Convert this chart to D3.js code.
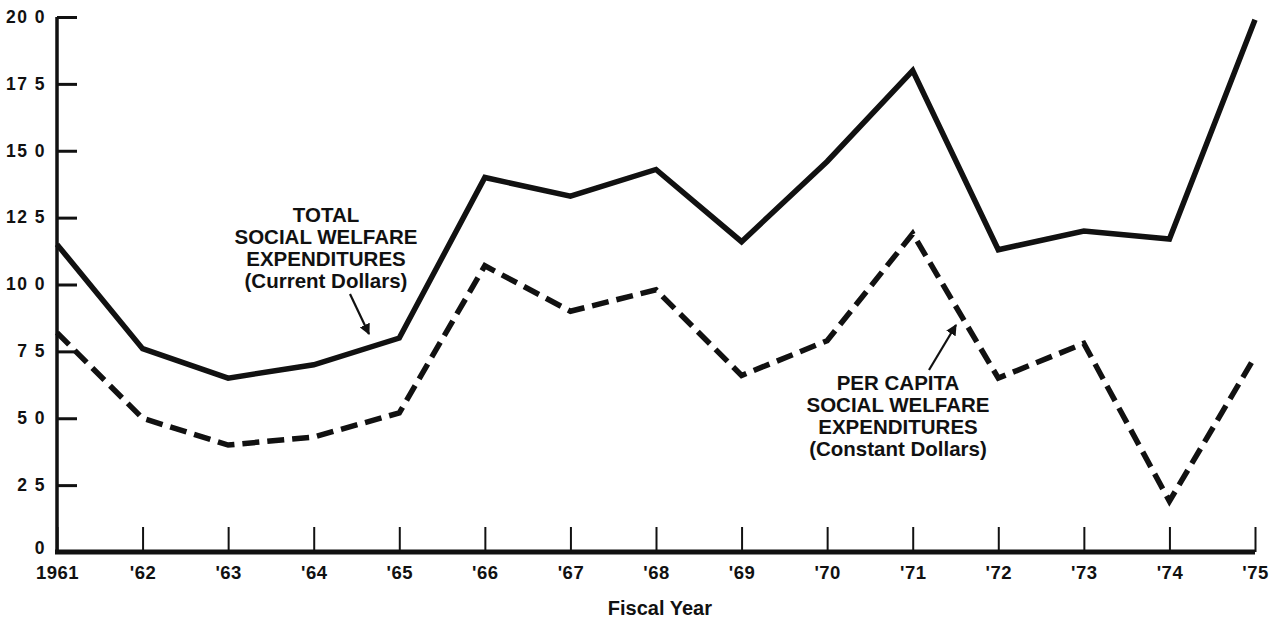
<!DOCTYPE html>
<html>
<head>
<meta charset="utf-8">
<script src="https://cdn.jsdelivr.net/npm/d3@7"></script>
<style>
  body { margin: 0; background: #fff; }
  text { font-family: "Liberation Sans", Arial, sans-serif; font-weight: bold; fill: #111; }
</style>
</head>
<body>
<div id="chart"></div>
<script>
// Data
const years = [1961, 1962, 1963, 1964, 1965, 1966, 1967, 1968, 1969, 1970, 1971, 1972, 1973, 1974, 1975]
const yearLabels = ["1961", "'62", "'63", "'64", "'65", "'66", "'67", "'68", "'69", "'70", "'71", "'72", "'73", "'74", "'75"]
const totalCurrent = [11.5, 7.6, 6.5, 7.0, 8.0, 14.0, 13.3, 14.3, 11.6, 14.6, 18.0, 11.3, 12.0, 11.7, 19.9]
const perCapitaConstant = [8.2, 5.0, 4.0, 4.3, 5.2, 10.7, 9.0, 9.8, 6.6, 7.9, 11.9, 6.5, 7.8, 1.9, 7.3]
const yTicks = [0, 2.5, 5, 7.5, 10, 12.5, 15, 17.5, 20]
const yTickLabels = ["0", "2 5", "5 0", "7 5", "10 0", "12 5", "15 0", "17 5", "20 0"]

let dimensions = {
  width: 1284,
  height: 618,
  margin: { top: 17, bottom: 66, left: 57, right: 29 }
}

const svg = d3.select("#chart")
  .append('svg')
  .attr('width', dimensions.width)
  .attr('height', dimensions.height)

const container = svg.append('g')
  .attr('transform', `translate(${dimensions.margin.left},${dimensions.margin.top})`)

const containerWidth = dimensions.width - dimensions.margin.left - dimensions.margin.right
const containerHeight = dimensions.height - dimensions.margin.top - dimensions.margin.bottom

// Scales
const xScale = d3.scaleLinear()
  .domain([1961, 1975])
  .range([0, containerWidth])

const yScale = d3.scaleLinear()
  .domain([0, 20])
  .range([containerHeight, 0])

// X axis: ticks pointing up from a heavy baseline
const xAxis = d3.axisTop(xScale)
  .tickValues(years)
  .tickSize(25)
  .tickFormat((d, i) => yearLabels[i])

const xAxisGroup = container.append('g')
  .attr('transform', `translate(0, ${containerHeight})`)
  .call(xAxis)
xAxisGroup.select('.domain').remove()
xAxisGroup.selectAll('.tick line').attr('stroke', '#111').attr('stroke-width', 2)
xAxisGroup.selectAll('.tick text')
  .attr('y', 27)
  .attr('dy', 0)
  .attr('font-size', '18.5px')
  .attr('letter-spacing', '0.5px')
  .attr('font-family', '"Liberation Sans", Arial, sans-serif')
  .attr('font-weight', 'bold')
  .attr('fill', '#111')
container.append('line')
  .attr('x1', -2).attr('x2', containerWidth)
  .attr('y1', containerHeight).attr('y2', containerHeight)
  .attr('stroke', '#111').attr('stroke-width', 5)

container.append('text')
  .attr('x', xScale(1966) + 175)
  .attr('y', containerHeight + 63)
  .attr('font-size', '20px')
  .attr('text-anchor', 'middle')
  .text('Fiscal Year')

// Y axis: ticks pointing right
const yAxis = d3.axisRight(yScale)
  .tickValues(yTicks)
  .tickSize(20)
  .tickFormat((d, i) => yTickLabels[i])

const yAxisGroup = container.append('g').call(yAxis)
yAxisGroup.select('.domain').remove()
yAxisGroup.selectAll('.tick line').attr('stroke', '#111').attr('stroke-width', 3)
yAxisGroup.selectAll('.tick text')
  .attr('x', -11)
  .attr('dy', '0.3em')
  .attr('text-anchor', 'end')
  .attr('font-size', '17.5px')
  .attr('letter-spacing', '1.5px')
  .attr('font-family', '"Liberation Sans", Arial, sans-serif')
  .attr('font-weight', 'bold')
  .attr('fill', '#111')
yAxisGroup.selectAll('.tick').filter(d => d === 0).select('text').attr('dy', '0.1em')
container.append('line')
  .attr('x1', 0).attr('x2', 0)
  .attr('y1', 0).attr('y2', containerHeight + 2)
  .attr('stroke', '#111').attr('stroke-width', 3.5)

// Lines
const line = d3.line()
  .x((d, i) => xScale(years[i]))
  .y(d => yScale(d))

container.append('path')
  .datum(totalCurrent)
  .attr('d', line)
  .attr('fill', 'none')
  .attr('stroke', '#111')
  .attr('stroke-width', 5.5)
  .attr('stroke-linejoin', 'miter')

container.append('path')
  .datum(perCapitaConstant)
  .attr('d', line)
  .attr('fill', 'none')
  .attr('stroke', '#111')
  .attr('stroke-width', 5.5)
  .attr('stroke-dasharray', '17,8')

// Annotations
const addLabel = (lines, cx, y0) => {
  container.append('text')
    .attr('text-anchor', 'middle')
    .attr('font-size', '20.5px')
    .selectAll('tspan')
    .data(lines)
    .join('tspan')
    .attr('x', cx)
    .attr('y', (d, i) => y0 + i * 22)
    .text(d => d)
}

addLabel(['TOTAL', 'SOCIAL WELFARE', 'EXPENDITURES', '(Current Dollars)'],
  326 - dimensions.margin.left, 222 - dimensions.margin.top)
addLabel(['PER CAPITA', 'SOCIAL WELFARE', 'EXPENDITURES', '(Constant Dollars)'],
  898 - dimensions.margin.left, 390 - dimensions.margin.top)

svg.append('defs').append('marker')
  .attr('id', 'arrow')
  .attr('viewBox', '0 0 10 10')
  .attr('refX', 9).attr('refY', 5)
  .attr('markerWidth', 5).attr('markerHeight', 5)
  .attr('orient', 'auto')
  .append('path')
  .attr('d', 'M0,0 L10,5 L0,10 z')
  .attr('fill', '#111')

// arrows point at the line segments they label
const arrow = (x1, y1, x2, y2) => {
  container.append('line')
    .attr('x1', x1 - dimensions.margin.left).attr('y1', y1 - dimensions.margin.top)
    .attr('x2', x2 - dimensions.margin.left).attr('y2', y2 - dimensions.margin.top)
    .attr('stroke', '#111')
    .attr('stroke-width', 2.2)
    .attr('marker-end', 'url(#arrow)')
}
arrow(350, 294, 369, 334)
arrow(929, 370, 956, 325)
</script>
</body>
</html>
